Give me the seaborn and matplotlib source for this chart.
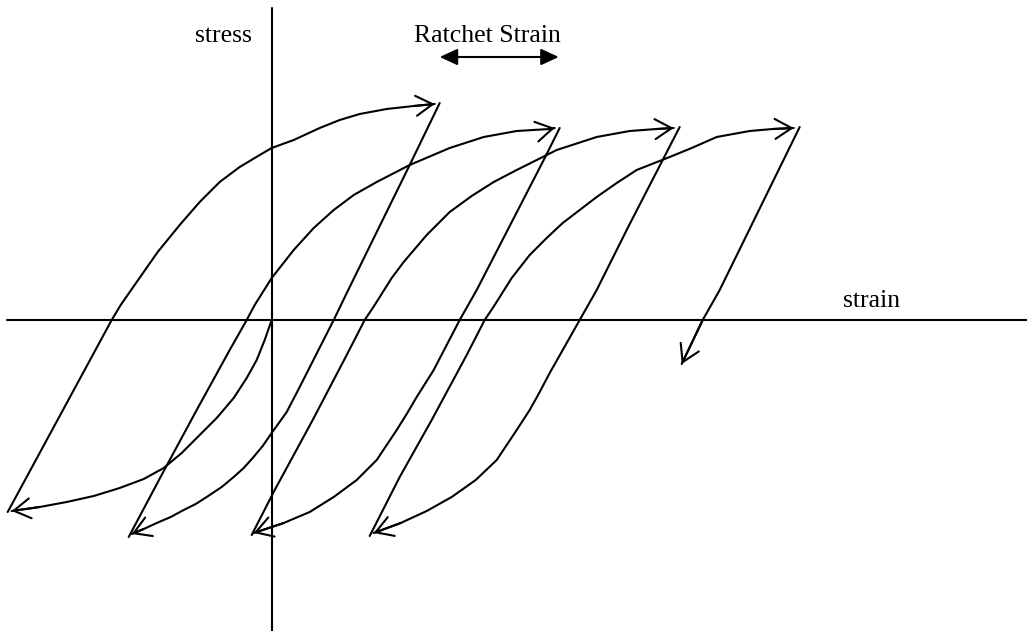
import numpy as np
import pandas as pd
import matplotlib
matplotlib.use("Agg")
import matplotlib.pyplot as plt
import seaborn as sns

# Schematic ratcheting loops, arbitrary strain / stress units (origin at axes cross)

# initial compression from origin to first valley
b0_strain = [0, -7, -15, -25, -38, -55, -72, -90, -108, -128, -152, -178, -205, -232, -260]
b0_stress = [0, -20, -40, -58, -78, -98, -115, -133, -148, -159, -168, -176, -182, -187, -191]

# loading 1 (valley 1 -> peak 1)
b1_strain = [-264, -212, -160, -151, -135, -114, -92, -72, -52, -32, -12, 0, 22, 48, 68, 88, 115, 142, 163]
b1_stress = [-192, -96, 0, 15, 38, 68, 95, 118, 138, 153, 165, 172, 180, 192, 200, 206, 211, 214, 216]

# unloading 1 (peak 1 -> valley 2)
b2_strain = [168, 138, 108, 78, 62, 28, 15, 0, -9, -19, -28, -38, -50, -65, -76, -88, -101, -115, -128, -140]
b2_stress = [217, 155, 94, 33, 0, -67, -92, -113, -126, -138, -148, -157, -167, -177, -184, -190, -197, -203, -209, -214]

# loading 2 (valley 2 -> peak 2)
b3_strain = [-143, -109, -75, -42, -25, -17, 0, 22, 42, 62, 82, 105, 138, 178, 212, 245, 278, 283]
b3_stress = [-217, -153, -90, -30, 0, 15, 42, 70, 92, 110, 125, 138, 155, 172, 183, 189, 191, 192]

# unloading 2 (peak 2 -> valley 3)
b4_strain = [288, 272, 238, 205, 188, 162, 145, 135, 125, 105, 85, 62, 38, 12, -18]
b4_stress = [192, 160, 94, 30, 0, -50, -77, -94, -110, -140, -160, -177, -192, -203, -213]

# loading 3 (valley 3 -> peak 3)
b5_strain = [-20, 3, 41, 75, 93, 103, 120, 132, 155, 178, 200, 222, 245, 265, 285, 325, 358, 385, 402]
b5_stress = [-215, -170, -100, -35, 0, 15, 42, 58, 85, 108, 124, 138, 150, 160, 170, 183, 189, 191, 192]

# unloading 3 (peak 3 -> valley 4)
b6_strain = [408, 391, 357, 325, 308, 278, 268, 258, 245, 225, 204, 180, 155, 129, 102]
b6_stress = [193, 160, 94, 30, 0, -53, -72, -90, -110, -140, -160, -177, -191, -203, -213]

# loading 4 (valley 4 -> peak 4)
b7_strain = [98, 128, 160, 195, 213, 223, 240, 258, 275, 291, 325, 345, 365, 398, 420, 445, 478, 501, 522]
b7_stress = [-216, -157, -100, -35, 0, 15, 42, 65, 82, 97, 123, 137, 150, 163, 172, 183, 189, 191, 192]

# unloading 4 (peak 4 -> last arrow)
b8_strain = [528, 448, 431, 410]
b8_stress = [193, 30, 0, -44]

branches_strain = [b0_strain, b1_strain, b2_strain, b3_strain, b4_strain,
                   b5_strain, b6_strain, b7_strain, b8_strain]
branches_stress = [b0_stress, b1_stress, b2_stress, b3_stress, b4_stress,
                   b5_stress, b6_stress, b7_stress, b8_stress]

# ratchet strain marker (peak 1 to peak 2)
ratchet_strain = [168, 287]
ratchet_stress = [263, 263]

rows = []
for i, (xs, ys) in enumerate(zip(branches_strain, branches_stress)):
    for k, (x, y) in enumerate(zip(xs, ys)):
        rows.append({"branch": i, "order": k, "strain": x, "stress": y})
df = pd.DataFrame(rows)

sns.set_style("white")
plt.rcParams['font.family'] = ['Liberation Serif', 'DejaVu Serif']

fig = plt.figure(figsize=(10.27, 6.31), dpi=100)
ax = fig.add_axes([0, 0, 1, 1])

lw = 1.5
sns.lineplot(data=df, x="strain", y="stress", units="branch", estimator=None,
             sort=False, color="black", linewidth=lw, ax=ax, legend=False)

# open arrow heads at the end of each branch
for xs, ys in zip(branches_strain, branches_stress):
    ax.annotate("", xy=(xs[-1], ys[-1]), xytext=(xs[-2], ys[-2]),
                arrowprops=dict(arrowstyle="->,head_length=0.6,head_width=0.36",
                                mutation_scale=20, color="black", lw=lw,
                                shrinkA=0, shrinkB=0))

# axes cross
ax.plot([-264.7, 755.3], [0, 0], color="black", linewidth=lw)
ax.plot([0, 0], [311.7, -311], color="black", linewidth=lw)

# ratchet strain double arrow
ax.annotate("", xy=(ratchet_strain[1], ratchet_stress[1]),
            xytext=(ratchet_strain[0], ratchet_stress[0]),
            arrowprops=dict(arrowstyle="<|-|>,head_length=0.54,head_width=0.25",
                            mutation_scale=20, color="black", lw=lw,
                            shrinkA=0, shrinkB=0))

fs = 18.5
ax.text(-20, 278.3, "stress", ha="right", va="baseline", fontsize=fs, color="black")
ax.text(215.3, 278.3, "Ratchet Strain", ha="center", va="baseline", fontsize=fs, color="black")
ax.text(571.3, 13.3, "strain", ha="left", va="baseline", fontsize=fs, color="black")

ax.set_xlim(-271.7, 755.3)
ax.set_ylim(-311, 320)
ax.set_axis_off()

fig.savefig("out.png", dpi=100)
